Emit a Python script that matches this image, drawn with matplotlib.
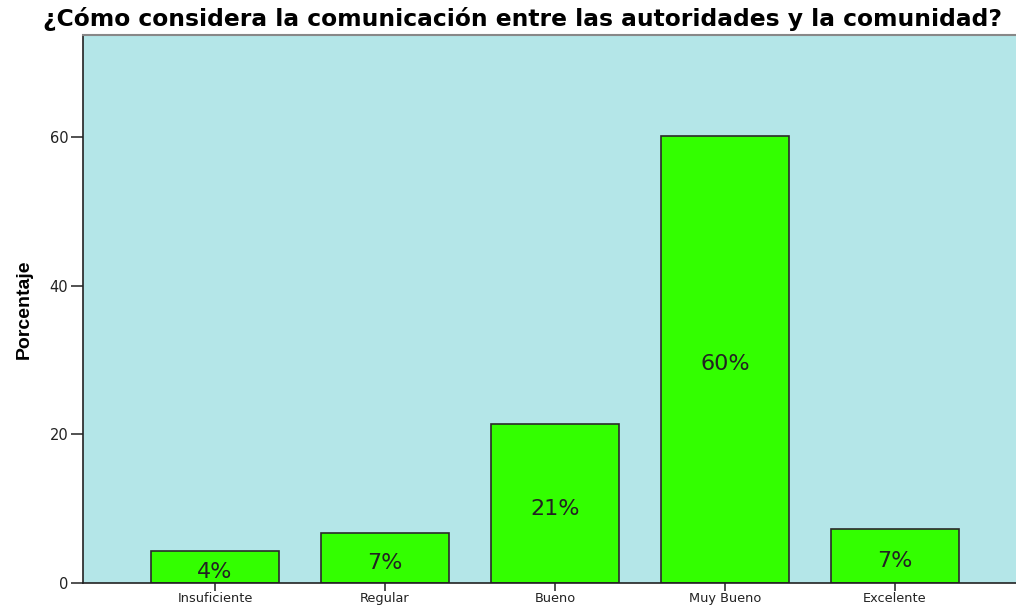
import matplotlib
matplotlib.use('Agg')
import matplotlib.pyplot as plt
from matplotlib.transforms import offset_copy

categories = ['Insuficiente', 'Regular', 'Bueno', 'Muy Bueno', 'Excelente']
percent = [4.3, 6.8, 21.4, 60.2, 7.3]
labels = ['4%', '7%', '21%', '60%', '7%']
yticks = [0, 20, 40, 60]

plt.rcParams['font.family'] = ['DejaVu Sans']

fig = plt.figure(figsize=(10.16, 6.07), dpi=100)
# axes extends a little past the right edge, like the cropped original
ax = fig.add_axes([83/1016, (607-583)/607, (1027-83)/1016, (583-35)/607])
ax.set_facecolor('#b4e6e8')

x = range(len(categories))
bars = ax.bar(x, percent, width=0.75, color='#33ff00', edgecolor='#2a2a2a', linewidth=1.2)
lab_tr = offset_copy(ax.transData, fig=fig, y=-5, units='dots')
for b, lab, v in zip(bars, labels, percent):
    ax.text(b.get_x() + b.get_width()/2, v/2, lab, ha='center', va='center',
            fontsize=16, color='#222222', transform=lab_tr)

ax.set_xlim(-0.776, 4.776)
ax.set_ylim(0, 73.8)
ax.set_xticks(list(x))
ax.set_xticklabels(categories)
ax.set_yticks(yticks)
ax.tick_params(axis='both', width=1.2, color='#333333', labelcolor='#222222')
ax.tick_params(axis='x', length=6, pad=0.5, labelsize=9.3)
ax.tick_params(axis='y', length=8.5, pad=2, labelsize=10.5)

ax.spines['right'].set_visible(False)
ax.spines['left'].set_color('#222222')
ax.spines['bottom'].set_color('#222222')
ax.spines['top'].set_color('#888888')
ax.spines['left'].set_linewidth(1.2)
ax.spines['bottom'].set_linewidth(1.2)
ax.spines['top'].set_linewidth(1.5)

ax.set_ylabel('Porcentaje', fontsize=14, fontweight='bold',
              family=['Liberation Sans Narrow', 'Liberation Sans', 'DejaVu Sans'])
ax.yaxis.set_label_coords(-0.053, 0.5)
fig.text(0.514, 0.968, '¿Cómo considera la comunicación entre las autoridades y la comunidad?',
         ha='center', va='center', fontsize=16.8, fontweight='bold')

fig.savefig('out.png', dpi=100)
